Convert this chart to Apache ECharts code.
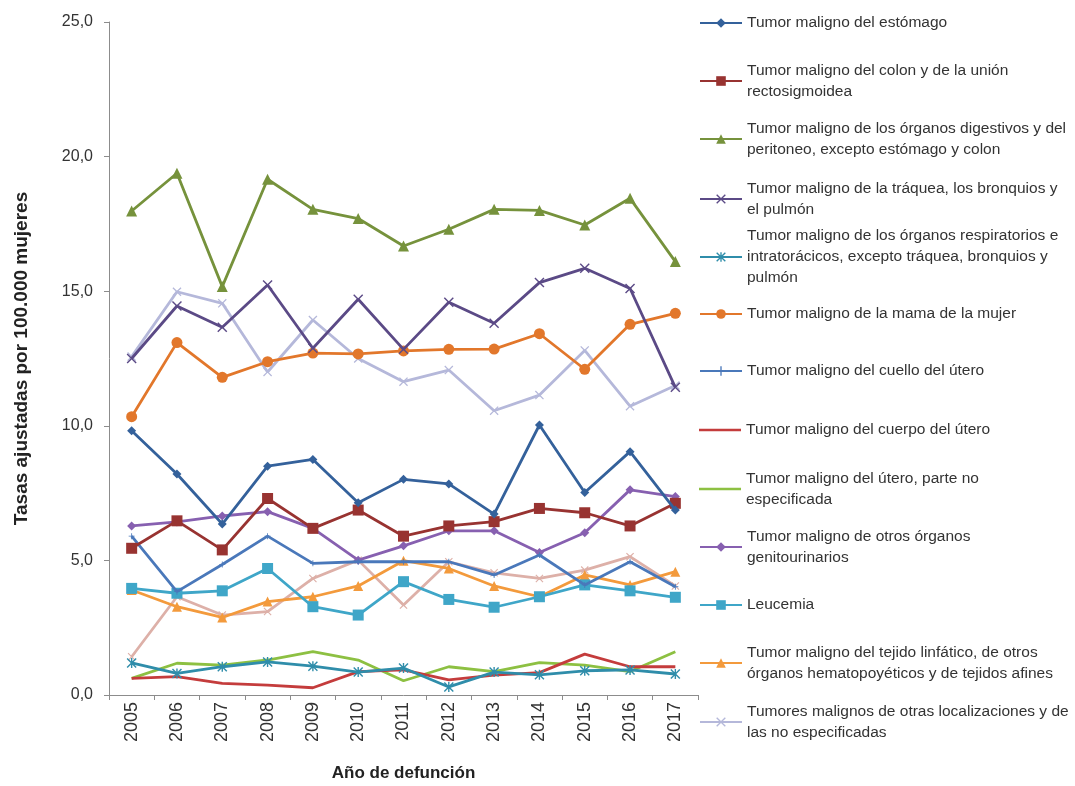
<!DOCTYPE html>
<html>
<head>
<meta charset="utf-8">
<script src="https://cdn.jsdelivr.net/npm/echarts@6/dist/echarts.min.js"></script>
<style>
  html, body { margin: 0; padding: 0; background: #ffffff; }
  #chart { width: 1075px; height: 786px; }
</style>
</head>
<body>
<div id="chart"></div>
<script>
// Años de defunción
const years = ['2005', '2006', '2007', '2008', '2009', '2010', '2011', '2012', '2013', '2014', '2015', '2016', '2017'];

// Tasas ajustadas por 100.000 mujeres, por causa
const estomago        = [9.82, 8.21, 6.35, 8.50, 8.75, 7.14, 8.01, 7.84, 6.72, 10.03, 7.52, 9.04, 6.87];
const colon           = [5.45, 6.47, 5.39, 7.30, 6.19, 6.87, 5.90, 6.28, 6.44, 6.93, 6.77, 6.28, 7.12];
const digestivos      = [17.98, 19.38, 15.17, 19.16, 18.04, 17.70, 16.68, 17.30, 18.04, 18.00, 17.46, 18.45, 16.10];
const pulmon          = [12.50, 14.45, 13.66, 15.23, 12.88, 14.70, 12.84, 14.59, 13.81, 15.32, 15.85, 15.10, 11.43];
const respiratorios   = [1.19, 0.80, 1.05, 1.23, 1.07, 0.85, 1.00, 0.30, 0.85, 0.75, 0.90, 0.93, 0.78];
const mama            = [10.34, 13.09, 11.80, 12.38, 12.70, 12.67, 12.78, 12.84, 12.85, 13.42, 12.10, 13.77, 14.18];
const cuelloUtero     = [5.90, 3.84, 4.85, 5.90, 4.89, 4.95, 4.95, 4.95, 4.46, 5.20, 4.09, 4.95, 4.02];
const cuerpoUtero     = [0.62, 0.68, 0.43, 0.37, 0.27, 0.87, 0.93, 0.56, 0.74, 0.83, 1.52, 1.05, 1.05];
const uteroNoEsp      = [0.62, 1.18, 1.11, 1.30, 1.61, 1.30, 0.53, 1.05, 0.87, 1.20, 1.11, 0.87, 1.61];
const genitourinarios = [6.28, 6.43, 6.65, 6.81, 6.19, 5.01, 5.54, 6.10, 6.10, 5.29, 6.03, 7.62, 7.37];
const leucemia        = [3.96, 3.78, 3.87, 4.70, 3.28, 2.97, 4.21, 3.55, 3.26, 3.65, 4.09, 3.87, 3.63];
const linfatico       = [3.90, 3.28, 2.88, 3.47, 3.65, 4.05, 4.99, 4.70, 4.05, 3.65, 4.46, 4.09, 4.58];
const otrasLocal      = [12.57, 14.98, 14.55, 12.00, 13.93, 12.50, 11.64, 12.07, 10.56, 11.14, 12.80, 10.73, 11.50];
const otrosTumores    = [1.42, 3.65, 2.97, 3.10, 4.33, 5.01, 3.34, 4.95, 4.54, 4.33, 4.64, 5.14, 4.05];

// Etiquetas de la leyenda (con saltos de línea)
const legendLabels = [
  'Tumor maligno del estómago',
  'Tumor maligno del colon y de la unión\nrectosigmoidea',
  'Tumor maligno de los órganos digestivos y del\nperitoneo, excepto estómago y colon',
  'Tumor maligno de la tráquea, los bronquios y\nel pulmón',
  'Tumor maligno de los órganos respiratorios e\nintratorácicos, excepto tráquea, bronquios y\npulmón',
  'Tumor maligno de la mama de la mujer',
  'Tumor maligno del cuello del útero',
  'Tumor maligno del cuerpo del útero',
  'Tumor maligno del útero, parte no\nespecificada',
  'Tumor maligno de otros órganos\ngenitourinarios',
  'Leucemia',
  'Tumor maligno del tejido linfático, de otros\nórganos hematopoyéticos y de tejidos afines',
  'Tumores malignos de otras localizaciones y de\nlas no especificadas'
];

// Símbolos en forma de aspa, asterisco y cruz
const SYM_X = 'path://M0,1 L1,0 L5,4 L9,0 L10,1 L6,5 L10,9 L9,10 L5,6 L1,10 L0,9 L4,5 Z';
const SYM_AST = 'path://M0,1 L1,0 L5,4 L9,0 L10,1 L6,5 L10,9 L9,10 L5,6 L1,10 L0,9 L4,5 Z M4.3,0 L5.7,0 L5.7,10 L4.3,10 Z';
const SYM_PLUS = 'path://M4.3,0 L5.7,0 L5.7,4.3 L10,4.3 L10,5.7 L5.7,5.7 L5.7,10 L4.3,10 L4.3,5.7 L0,5.7 L0,4.3 L4.3,4.3 Z';
// Icono de leyenda sólo con trazo (sin marcador)
const ICON_LINE = 'path://M0,0 L42,0 L42,0.01 Z M0,4.8 L42,4.8 L42,7.2 L0,7.2 Z M0,12 L42,12 L42,11.99 Z';

const seriesDefs = [
  { name: legendLabels[0],  data: estomago,        color: '#34619B', symbol: 'diamond',  size: 9 },
  { name: legendLabels[1],  data: colon,           color: '#983331', symbol: 'rect',     size: 11 },
  { name: legendLabels[2],  data: digestivos,      color: '#76923C', symbol: 'triangle', size: 11 },
  { name: legendLabels[3],  data: pulmon,          color: '#5B4A86', symbol: SYM_X,      size: 10 },
  { name: legendLabels[4],  data: respiratorios,   color: '#2F8DAA', symbol: SYM_AST,    size: 10 },
  { name: legendLabels[5],  data: mama,            color: '#E2772B', symbol: 'circle',   size: 11 },
  { name: legendLabels[6],  data: cuelloUtero,     color: '#4A78BA', symbol: SYM_PLUS,   size: 6 },
  { name: legendLabels[7],  data: cuerpoUtero,     color: '#C43C3C', symbol: 'none',     size: 0 },
  { name: legendLabels[8],  data: uteroNoEsp,      color: '#8DC042', symbol: 'none',     size: 0 },
  { name: legendLabels[9],  data: genitourinarios, color: '#8760B0', symbol: 'diamond',  size: 9 },
  { name: legendLabels[10], data: leucemia,        color: '#3FA6C8', symbol: 'rect',     size: 11 },
  { name: legendLabels[11], data: linfatico,       color: '#F39A3C', symbol: 'triangle', size: 10 },
  { name: legendLabels[12], data: otrasLocal,      color: '#B5B8DA', symbol: SYM_X,      size: 9 },
  { name: 'Otros tumores malignos', data: otrosTumores, color: '#DDB0A8', symbol: SYM_X, size: 8 }
];

const series = seriesDefs.map(function (d, i) {
  return {
    name: d.name,
    type: 'line',
    data: d.data,
    symbol: d.symbol,
    symbolSize: d.size,
    showSymbol: d.symbol !== 'none',
    lineStyle: { color: d.color, width: 2.8 },
    itemStyle: { color: d.color },
    z: 2 + (seriesDefs.length - i) * 0.01,
    animation: false
  };
});

// Leyenda: una entrada por componente, alineadas en columna a la derecha
const LINE_H = 21;
const legendCenters = [23, 81, 139, 199, 257, 314, 371, 430, 489, 547, 605, 663, 722];
const legends = legendLabels.map(function (label, i) {
  const n = label.split('\n').length;
  const def = seriesDefs[i];
  const item = { name: label };
  if (def.symbol === 'none') item.icon = ICON_LINE;
  return {
    data: [item],
    orient: 'vertical',
    left: 699,
    top: legendCenters[i] - (2 * n - 1) * LINE_H / 2,
    padding: 0,
    itemWidth: 42,
    itemHeight: 12,
    selectedMode: false,
    textStyle: {
      fontFamily: 'Liberation Sans, Arial, sans-serif',
      fontSize: 15.5,
      color: '#333333',
      lineHeight: LINE_H,
      padding: [(n - 1) * LINE_H, 0, 0, 0]
    }
  };
});

const chart = echarts.init(document.getElementById('chart'), null, { renderer: 'canvas' });
chart.setOption({
  backgroundColor: '#ffffff',
  animation: false,
  textStyle: { fontFamily: 'Liberation Sans, Arial, sans-serif' },
  grid: { left: 109, right: 377, top: 22, bottom: 91, containLabel: false, outerBoundsMode: 'none' },
  legend: legends,
  xAxis: {
    type: 'category',
    data: years,
    boundaryGap: true,
    name: 'Año de defunción',
    nameLocation: 'middle',
    nameGap: 70,
    nameTextStyle: { fontSize: 17, fontWeight: 'bold', color: '#222222' },
    axisLine: { lineStyle: { color: '#8C8C8C', width: 1 } },
    axisTick: { show: true, interval: 0, length: 5, lineStyle: { color: '#8C8C8C' } },
    axisLabel: { rotate: 90, fontSize: 18, color: '#333333', margin: 7, interval: 0 },
    splitLine: { show: false }
  },
  yAxis: {
    type: 'value',
    min: 0,
    max: 25,
    interval: 5,
    name: 'Tasas ajustadas por 100.000 mujeres',
    nameLocation: 'middle',
    nameGap: 78,
    nameTextStyle: { fontSize: 19, fontWeight: 'bold', color: '#222222' },
    axisLine: { show: true, lineStyle: { color: '#8C8C8C', width: 1 } },
    axisTick: { show: true, length: 5, lineStyle: { color: '#8C8C8C' } },
    axisLabel: {
      fontSize: 16,
      color: '#333333',
      margin: 16,
      formatter: function (v) { return v.toFixed(1).replace('.', ','); }
    },
    splitLine: { show: false }
  },
  series: series
});
</script>
</body>
</html>
